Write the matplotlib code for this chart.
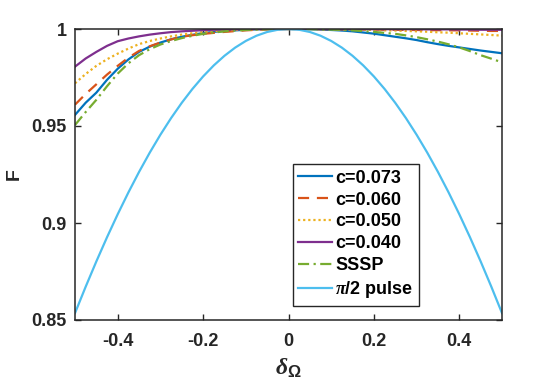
import matplotlib
matplotlib.use("Agg")
import matplotlib.pyplot as plt

delta = [-0.500, -0.475, -0.450, -0.425, -0.400, -0.375, -0.350, -0.325, -0.300, -0.275,
         -0.250, -0.225, -0.200, -0.175, -0.150, -0.125, -0.100, -0.075, -0.050, -0.025,
         0.000,
         0.025, 0.050, 0.075, 0.100, 0.125, 0.150, 0.175, 0.200, 0.225, 0.250,
         0.275, 0.300, 0.325, 0.350, 0.375, 0.400, 0.425, 0.450, 0.475, 0.500]

F_c073 = [0.9557, 0.9620, 0.9672, 0.9738, 0.9795, 0.9843, 0.9882, 0.9909, 0.9930, 0.9947,
          0.9960, 0.9970, 0.9979, 0.9985, 0.9990, 0.9993, 0.9996, 0.9998, 0.9999, 1.0000,
          1.0000,
          1.0000, 0.9999, 0.9997, 0.9995, 0.9992, 0.9988, 0.9982, 0.9976, 0.9968, 0.9960,
          0.9952, 0.9943, 0.9932, 0.9922, 0.9913, 0.9905, 0.9897, 0.9889, 0.9882, 0.9875]
F_c060 = [0.9610, 0.9665, 0.9715, 0.9765, 0.9810, 0.9852, 0.9887, 0.9911, 0.9930, 0.9946,
          0.9960, 0.9968, 0.9975, 0.9980, 0.9985, 0.9989, 0.9993, 0.9996, 0.9998, 0.9999,
          1.0000,
          1.0000, 1.0000, 0.9999, 0.9999, 0.9998, 0.9998, 0.9997, 0.9997, 0.9996, 0.9996,
          0.9995, 0.9995, 0.9994, 0.9994, 0.9993, 0.9993, 0.9992, 0.9991, 0.9990, 0.9990]
F_c050 = [0.9720, 0.9768, 0.9810, 0.9844, 0.9873, 0.9899, 0.9922, 0.9938, 0.9951, 0.9962,
          0.9971, 0.9978, 0.9984, 0.9988, 0.9992, 0.9995, 0.9997, 0.9998, 0.9999, 1.0000,
          1.0000,
          1.0000, 1.0000, 0.9999, 0.9999, 0.9998, 0.9997, 0.9996, 0.9995, 0.9993, 0.9992,
          0.9990, 0.9988, 0.9986, 0.9983, 0.9981, 0.9978, 0.9975, 0.9972, 0.9969, 0.9966]
F_c040 = [0.9806, 0.9848, 0.9882, 0.9913, 0.9937, 0.9951, 0.9962, 0.9971, 0.9978, 0.9984,
          0.9988, 0.9991, 0.9994, 0.9996, 0.9997, 0.9998, 0.9999, 1.0000, 1.0000, 1.0000,
          1.0000,
          1.0000, 1.0000, 1.0000, 1.0000, 1.0000, 1.0000, 0.9999, 0.9999, 0.9999, 0.9999,
          0.9999, 0.9999, 0.9998, 0.9998, 0.9998, 0.9997, 0.9997, 0.9996, 0.9996, 0.9996]
F_sssp = [0.9505, 0.9572, 0.9635, 0.9705, 0.9770, 0.9823, 0.9865, 0.9896, 0.9920, 0.9938,
          0.9953, 0.9965, 0.9975, 0.9982, 0.9988, 0.9992, 0.9995, 0.9997, 0.9999, 1.0000,
          1.0000,
          1.0000, 0.9999, 0.9998, 0.9997, 0.9995, 0.9993, 0.9989, 0.9985, 0.9980, 0.9975,
          0.9967, 0.9958, 0.9947, 0.9935, 0.9921, 0.9905, 0.9886, 0.9865, 0.9847, 0.9828]
F_pi2 = [0.85355, 0.86716, 0.88020, 0.89266, 0.90451, 0.91573, 0.92632, 0.93625, 0.94550, 0.95407,
         0.96194, 0.96910, 0.97553, 0.98123, 0.98618, 0.99039, 0.99384, 0.99653, 0.99846, 0.99961,
         1.00000,
         0.99961, 0.99846, 0.99653, 0.99384, 0.99039, 0.98618, 0.98123, 0.97553, 0.96910, 0.96194,
         0.95407, 0.94550, 0.93625, 0.92632, 0.91573, 0.90451, 0.89266, 0.88020, 0.86716, 0.85355]

labels = ["c=0.073", "c=0.060", "c=0.050", "c=0.040", "SSSP", r"$\pi$/2 pulse"]
xticks = [-0.4, -0.2, 0, 0.2, 0.4]
xticklabels = ["-0.4", "-0.2", "0", "0.2", "0.4"]
yticks = [0.85, 0.9, 0.95, 1.0]
yticklabels = ["0.85", "0.9", "0.95", "1"]

plt.rcParams['font.family'] = ['Liberation Sans', 'DejaVu Sans']
plt.rcParams['font.weight'] = 'bold'
plt.rcParams['mathtext.fontset'] = 'custom'
plt.rcParams['mathtext.rm'] = 'Liberation Sans:bold'
plt.rcParams['mathtext.it'] = 'Liberation Serif:italic:bold'
plt.rcParams['mathtext.bf'] = 'Liberation Sans:bold'

fig = plt.figure(figsize=(5.54, 3.90), dpi=100)
ax = fig.add_axes([75/554, 1 - 320/390, 427/554, 291/390])

lw = 1.6
ax.plot(delta, F_c073, color='#0072BD', lw=lw, ls='-', label=labels[0])
ax.plot(delta, F_c060, color='#D95319', lw=lw, ls=(0, (5, 3.5)), label=labels[1])
ax.plot(delta, F_c050, color='#EDB120', lw=lw, ls=(0, (1, 1.3)), label=labels[2])
ax.plot(delta, F_c040, color='#7E2F8E', lw=lw, ls='-', label=labels[3])
ax.plot(delta, F_sssp, color='#77AC30', lw=lw, ls=(0, (5, 2, 1, 2)), label=labels[4])
ax.plot(delta, F_pi2, color='#4DBEEE', lw=lw, ls='-', label=labels[5])

ax.set_xlim(-0.5, 0.5)
ax.set_ylim(0.85, 1.0)
ax.set_xticks(xticks)
ax.set_xticklabels(xticklabels)
ax.set_yticks(yticks)
ax.set_yticklabels(yticklabels)

ec = '#262626'
for s in ax.spines.values():
    s.set_color(ec)
    s.set_linewidth(1.1)
ax.tick_params(direction='in', length=4, width=1.0, color=ec, labelcolor=ec,
               labelsize=13, top=True, right=True)
ax.tick_params(axis='x', pad=9)
ax.tick_params(axis='y', pad=6)
for t in ax.get_xticklabels() + ax.get_yticklabels():
    t.set_fontweight('bold')

ax.set_ylabel('F', fontsize=14, fontweight='bold', color=ec)
ax.yaxis.set_label_coords(-0.122, 0.5)
ax.set_xlabel(r'$\delta_{\Omega}$', fontsize=17, color=ec)
ax.xaxis.set_label_coords(0.5, -0.125)

leg = ax.legend(loc='upper left', bbox_to_anchor=(0.51, 0.535), fontsize=13,
                frameon=True, fancybox=False, framealpha=1, edgecolor='#262626',
                handlelength=1.9, handletextpad=0.15, labelspacing=0.27,
                borderpad=0.3, borderaxespad=0)
leg.get_frame().set_linewidth(1.0)
for t in leg.get_texts():
    t.set_fontweight('bold')
    t.set_color('black')

fig.savefig('out.png', dpi=100)
